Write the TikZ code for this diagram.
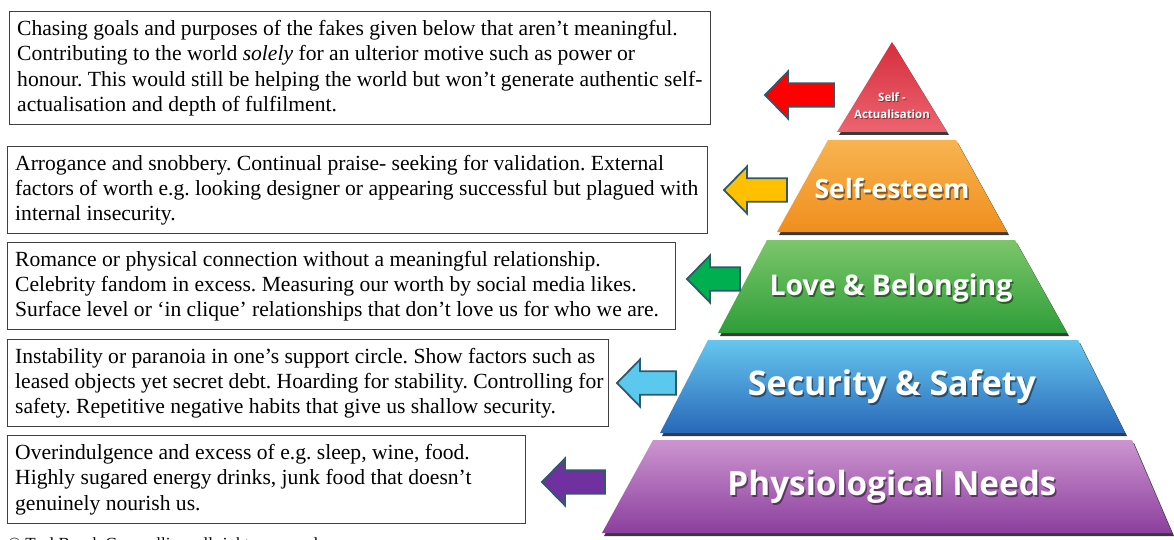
\documentclass[tikz,border=0pt]{standalone}
\usepackage{graphicx}
\usepackage{fontspec}
\setmainfont{Liberation Serif}
\newfontfamily\tierfont{Open Sans}
\usetikzlibrary{calc}
\frenchspacing

\definecolor{boxline}{HTML}{404040}
\definecolor{arrowline}{HTML}{2E5A6B}
\definecolor{tiershadow}{HTML}{3A3A3A}
% tier shades (top / middle / bottom)
\definecolor{redA}{HTML}{D62E3C}\definecolor{redB}{HTML}{E2404E}\definecolor{redC}{HTML}{EC6470}
\definecolor{orA}{HTML}{F7B450}\definecolor{orB}{HTML}{F39C30}\definecolor{orC}{HTML}{F08E1E}
\definecolor{grA}{HTML}{7CC66A}\definecolor{grB}{HTML}{3FAA3E}\definecolor{grC}{HTML}{2E9E38}
\definecolor{blA}{HTML}{66C6EE}\definecolor{blB}{HTML}{2D8CD2}\definecolor{blC}{HTML}{2868B8}
\definecolor{puA}{HTML}{CC95CF}\definecolor{puB}{HTML}{A35EB1}\definecolor{puC}{HTML}{8C3F9E}
% arrow fills
\definecolor{arRed}{HTML}{FF0000}
\definecolor{arOrange}{HTML}{FFC000}
\definecolor{arGreen}{HTML}{00B050}
\definecolor{arBlue}{HTML}{5BC8EE}
\definecolor{arPurple}{HTML}{7030A0}

% one tier of the pyramid: #1 top y, #2 bottom y, #3/#4 top left/right x,
% #5/#6 bottom left/right x, #7 top colour, #8 middle colour, #9 bottom colour
\newcommand\tier[9]{%
  \fill[tiershadow, xshift=2pt, yshift=-3pt] (#3,#1) -- (#4,#1) -- (#6,#2) -- (#5,#2) -- cycle;
  \shade[top color=#7, middle color=#8, bottom color=#9] (#3,#1) -- (#4,#1) -- (#6,#2) -- (#5,#2) -- cycle;
}

% left-pointing block arrow: #1 fill, #2 tip x, #3 tip y, #4 tail x
\newcommand\blockarrow[4]{%
  \draw[arrowline, line width=1.8pt, line join=miter, fill=#1]
    (#2,#3) -- ++(23,-23.5) -- ++(0,11.75) -- (#4,#3-11.75) -- (#4,#3+11.75)
    -- (#2+23,#3+11.75) -- ++(0,11.75) -- cycle;
}

\tikzset{
  textbox/.style={draw=boxline, line width=1.3pt, anchor=north west, inner sep=0pt},
  boxtext/.style={anchor=west, align=left, inner sep=0pt,
    font=\fontsize{21.6}{25.4}\selectfont},
  tierlabel/.style={text=white, inner sep=0pt, font=\tierfont\bfseries},
  tiershade/.style={text=black, opacity=0.45, inner sep=0pt, font=\tierfont\bfseries},
}

\begin{document}
\begin{tikzpicture}[x=1pt,y=-1pt]
\useasboundingbox (0,0) rectangle (1174,540);
\fill[white] (0,0) rectangle (1174,540);

% ---- pyramid tiers ----
\tier{42}{132}{892}{892}{837}{947}{redA}{redB}{redC}
\tier{140}{232}{828}{956}{777}{1007}{orA}{orB}{orC}
\tier{240}{333}{767}{1015}{718}{1067}{grA}{grB}{grC}
\tier{340}{433}{708}{1078}{660}{1125}{blA}{blB}{blC}
\tier{440}{533}{653}{1132}{602}{1172}{puA}{puB}{puC}

% ---- tier labels (with soft drop shadow) ----
\node[tiershade] (sPhys) at (893.5,489) {\resizebox{329pt}{!}{Physiological Needs}};
\node[tierlabel] (lPhys) at (892,487) {\resizebox{329pt}{!}{Physiological Needs}};
\node[tiershade] (sSafe) at (893.5,389) {\resizebox{288pt}{!}{Security \& Safety}};
\node[tierlabel] (lSafe) at (892,387) {\resizebox{288pt}{!}{Security \& Safety}};
\node[tiershade] (sLove) at (892.5,290) {\resizebox{243pt}{!}{Love \& Belonging}};
\node[tierlabel] (lLove) at (891,288) {\resizebox{243pt}{!}{Love \& Belonging}};
\node[tiershade] (sEst) at (893.5,190) {\resizebox{155pt}{!}{Self-esteem}};
\node[tierlabel] (lEst) at (892,188) {\resizebox{155pt}{!}{Self-esteem}};
\node[tiershade] (sAct1) at (893,98) {\fontsize{11.4}{13}\selectfont Self -};
\node[tierlabel] (lAct1) at (892,97) {\fontsize{11.4}{13}\selectfont Self -};
\node[tiershade] (sAct2) at (893,115) {\fontsize{11.4}{13}\selectfont Actualisation};
\node[tierlabel] (lAct2) at (892,114) {\fontsize{11.4}{13}\selectfont Actualisation};

% ---- arrows ----
\blockarrow{arRed}{765}{95}{834}
\blockarrow{arOrange}{724}{190}{787}
\blockarrow{arGreen}{687}{279}{740}
\blockarrow{arBlue}{617}{383}{676}
\blockarrow{arPurple}{542}{482}{605}

% ---- text boxes ----
\node[textbox, minimum width=701pt, minimum height=113pt] (b1) at (9,11) {};
\node[boxtext] (t1) at ([xshift=8pt]b1.west) {Chasing goals and purposes of the fakes given below that aren’t meaningful.\\
Contributing to the world \textit{solely} for an ulterior motive such as power or\\
honour. This would still be helping the world but won’t generate authentic self-\\
actualisation and depth of fulfilment.};

\node[textbox, minimum width=700pt, minimum height=87pt] (b2) at (7,146) {};
\node[boxtext] (t2) at ([xshift=8pt]b2.west) {Arrogance and snobbery. Continual praise- seeking for validation. External\\
factors of worth e.g. looking designer or appearing successful but plagued with\\
internal insecurity.};

\node[textbox, minimum width=668pt, minimum height=87pt] (b3) at (7,242) {};
\node[boxtext] (t3) at ([xshift=8pt]b3.west) {Romance or physical connection without a meaningful relationship.\\
Celebrity fandom in excess. Measuring our worth by social media likes.\\
Surface level or ‘in clique’ relationships that don’t love us for who we are.};

\node[textbox, minimum width=601pt, minimum height=87pt] (b4) at (7,339) {};
\node[boxtext] (t4) at ([xshift=8pt]b4.west) {Instability or paranoia in one’s support circle. Show factors such as\\
leased objects yet secret debt. Hoarding for stability. Controlling for\\
safety. Repetitive negative habits that give us shallow security.};

\node[textbox, minimum width=518pt, minimum height=88pt] (b5) at (7,435) {};
\node[boxtext] (t5) at ([xshift=8pt]b5.west) {Overindulgence and excess of e.g. sleep, wine, food.\\
Highly sugared energy drinks, junk food that doesn’t\\
genuinely nourish us.};

% ---- credit line along the lower edge ----
\node[anchor=base west, inner sep=0pt, font=\fontsize{17}{20}\selectfont] (credit) at (8,549) {© Teal Beach Counselling, all rights reserved};
\end{tikzpicture}
\end{document}
